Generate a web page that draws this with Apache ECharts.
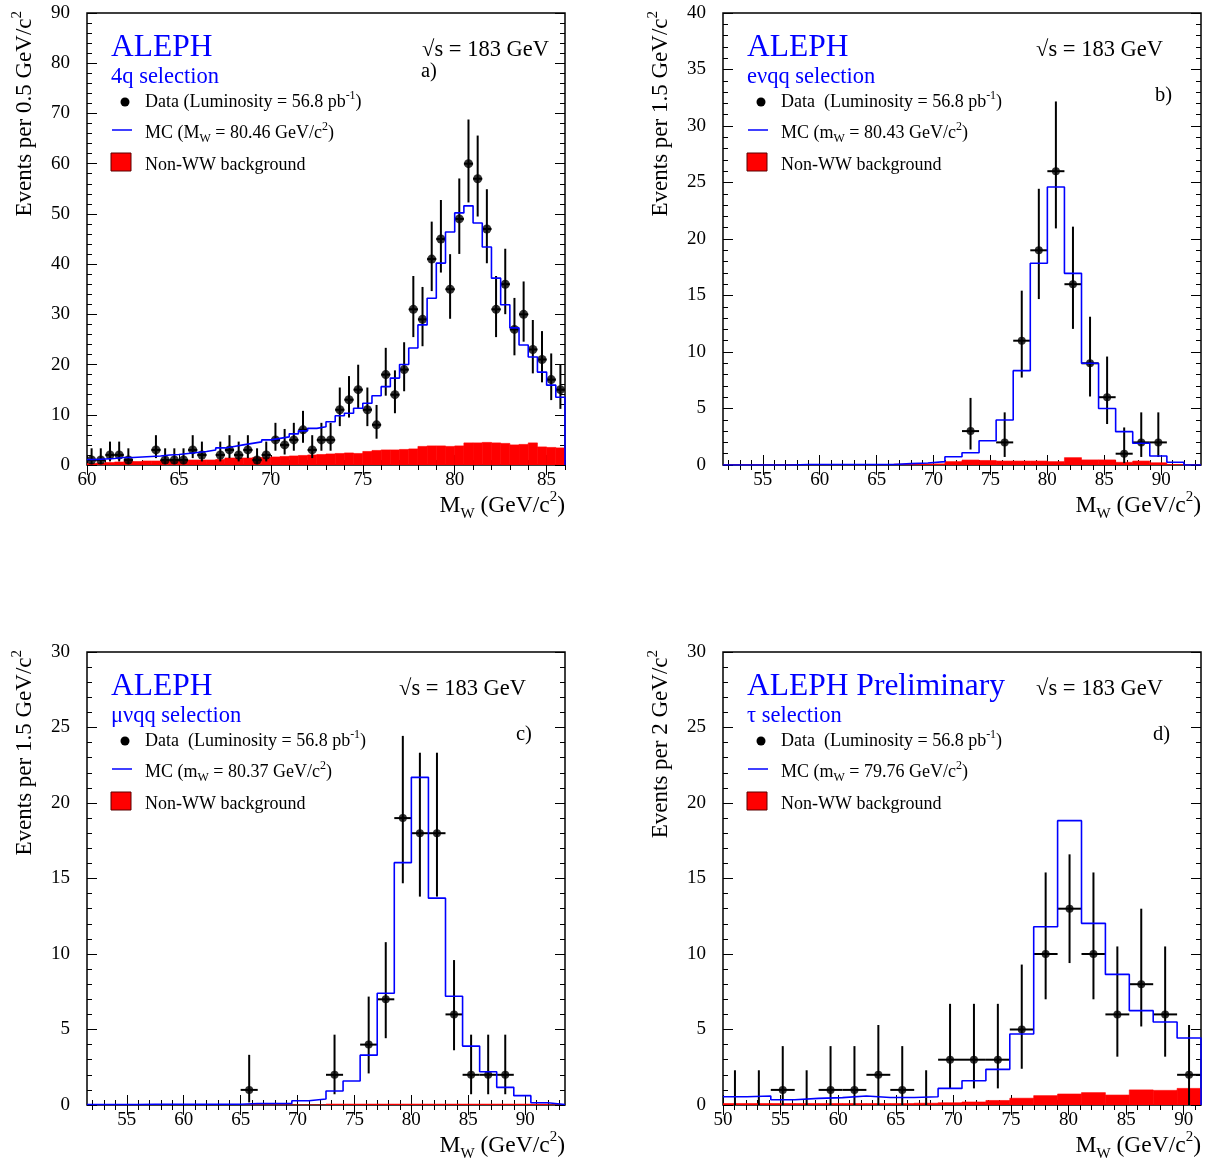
<!DOCTYPE html>
<html><head><meta charset="utf-8">
<script src="https://cdn.jsdelivr.net/npm/echarts@6/dist/echarts.min.js"></script>
<style>html,body{margin:0;padding:0;background:#fff}#c{width:1211px;height:1163px}</style>
</head><body><div id="c"></div>
<script>
// ================= DATA =================
// Panel a) 4q selection : 52 bins of 0.5 GeV starting at 60
const aBinLo = 60, aBinW = 0.5;
const aMC = [1.1,1.2,1.3,1.5,1.5,1.6,1.7,1.8,2.0,2.1, 2.3,2.5,2.7,3.0,3.4,3.7,4.0,4.3,4.6,5.0,
  5.3,5.6,6.2,6.8,7.3,7.6,8.6,9.8,10.3,11.3, 12.3,13.8,15.6,17.3,20.0,23.3,27.9,33.2,40.2,46.4,
  50.2,51.6,48.2,43.4,37.2,31.9,27.3,23.9,21.5,18.5, 15.9,13.5];
const aBkg = [0.3,0.4,0.5,0.6,0.7,0.7,0.8,0.8,0.9,0.9, 0.9,1.0,1.0,1.0,1.1,1.4,1.4,1.4,1.5,1.5,
  1.6,1.7,1.8,1.9,2.0,2.1,2.2,2.3,2.4,2.3, 2.7,2.9,3.0,3.0,3.1,3.2,3.7,3.8,3.8,3.7,
  3.8,4.4,4.4,4.5,4.4,4.3,4.0,4.1,4.4,3.6, 3.5,3.4];
const aCounts = [1,1,2,2,1,0,0,3,1,1, 1,3,2,0,2,3,2,3,1,2, 5,4,5,7,3,5,5,11,13,15,
  11,8,18,14,19,31,29,41,45,35, 49,60,57,47,31,36,27,30,23,21, 17,15];
const aXTicks = [60,65,70,75,80,85];
const aYTicks = [0,10,20,30,40,50,60,70,80,90];

// Panel b) e nu qq selection : 28 bins of 1.5 GeV starting at 51.5
const bBinLo = 51.5, bBinW = 1.5;
const bMC = [0,0,0,0,0.05,0.05,0.05,0.05,0.05,0.05, 0.12,0.18,0.3,0.73,1.09,2.15,3.98,8.35,17.85,24.6,
  16.96,9.0,5.0,2.95,1.92,0.8,0.24,0];
const bBkg = [0,0,0,0,0,0,0,0,0,0, 0.08,0.1,0.1,0.3,0.44,0.4,0.35,0.35,0.35,0.3,
  0.65,0.45,0.45,0.24,0.35,0.2,0.05,0];
const bCounts = [0,0,0,0,0,0,0,0,0,0, 0,0,0,0,3,0,2,11,19,26, 16,9,6,1,2,2,0,0];
const bXTicks = [55,60,65,70,75,80,85,90];
const bYTicks = [0,5,10,15,20,25,30,35,40];

// Panel c) mu nu qq selection : 28 bins of 1.5 GeV starting at 51.5
const cBinLo = 51.5, cBinW = 1.5;
const cMC = [0.03,0.03,0.03,0.05,0.05,0.05,0.05,0.05,0.05,0.1, 0.1,0.1,0.28,0.4,0.93,1.59,3.3,7.4,16.05,21.7,
  13.7,7.2,3.9,2.2,1.17,0.62,0.15,0.03];
const cBkg = [0,0,0,0,0,0,0,0,0,0, 0,0,0,0,0.06,0.06,0.06,0.06,0.06,0.06,
  0.06,0.06,0.06,0.06,0.06,0.06,0.06,0];
const cCounts = [0,0,0,0,0,0,0,0,0,1, 0,0,0,0,2,0,4,7,19,18, 18,6,2,2,2,0,0,0];
const cXTicks = [55,60,65,70,75,80,85,90];
const cYTicks = [0,5,10,15,20,25,30];

// Panel d) tau selection : 20 bins starting at 50 (width 2.075)
const dBinLo = 50, dBinW = 2.075;
const dMC = [0.55,0.6,0.35,0.44,0.49,0.6,0.5,0.5,0.55,1.1, 1.61,2.36,4.7,11.8,18.83,12.03,8.65,6.25,5.5,4.44];
const dBkg = [0.1,0.1,0.1,0.1,0.1,0.1,0.1,0.1,0.12,0.15, 0.2,0.3,0.45,0.62,0.73,0.82,0.66,1.0,0.97,1.1];
const dCounts = [0,0,1,0,1,1,2,1,0,3, 3,3,5,10,13,10,6,8,6,2];
const dErrLo = [0,0,0,0,0,0,0,0,0,1.1, 1.1,1.1,2.4,7.0,9.4,7.0,3.2,5.2,3.2,0];
const dErrHi = [2.3,2.3,3.9,2.3,3.9,3.9,5.3,3.9,2.3,6.7, 6.7,6.7,9.3,15.4,16.6,15.4,10.5,13.0,10.5,5.3];
const dXTicks = [50,55,60,65,70,75,80,85,90];
const dYTicks = [0,5,10,15,20,25,30];

// ================= RENDERING =================
const FONT = 'Liberation Serif';
const BLUE = '#0000ff';
const RED = '#ff0000';

// Gehrels approximation of the 68% Poisson interval of a count
function poissonInterval(n) {
  const lo = n * Math.pow(1 - 1 / (9 * n) - 1 / (3 * Math.sqrt(n)), 3);
  const hi = n + Math.sqrt(n + 0.75) + 1;
  return [lo, hi];
}

const panels = [
  {left:87, top:13, w:478, h:452, xmin:60, xmax:86, xMajor:aXTicks, yMajor:aYTicks, yMinorStep:2,
   lo:aBinLo, bw:aBinW, mc:aMC, bkg:aBkg, counts:aCounts, sym:9, dropEnd:true,
   title:'ALEPH', sel:'4q selection', sqrtX:462, tag:'a)', tagX:334, tagY:59,
   data:'Data (Luminosity = 56.8 pb{sup|-1})', mcTxt:'MC (M{sub|W} = 80.46 GeV/c{sup|2})',
   ytitle:'Events per 0.5 GeV/c{sup|2}'},
  {left:723, top:13, w:478, h:452, xmin:51.5, xmax:93.5, xMajor:bXTicks, yMajor:bYTicks, yMinorStep:1,
   lo:bBinLo, bw:bBinW, mc:bMC, bkg:bBkg, counts:bCounts, sym:8, dropEnd:false,
   title:'ALEPH', sel:'eνqq selection', sqrtX:440, tag:'b)', tagX:432, tagY:83,
   data:'Data  (Luminosity = 56.8 pb{sup|-1})', mcTxt:'MC (m{sub|W} = 80.43 GeV/c{sup|2})',
   ytitle:'Events per 1.5 GeV/c{sup|2}'},
  {left:87, top:652, w:478, h:453, xmin:51.5, xmax:93.5, xMajor:cXTicks, yMajor:cYTicks, yMinorStep:1,
   lo:cBinLo, bw:cBinW, mc:cMC, bkg:cBkg, counts:cCounts, sym:8, dropEnd:false,
   title:'ALEPH', sel:'μνqq selection', sqrtX:439, tag:'c)', tagX:429, tagY:83,
   data:'Data  (Luminosity = 56.8 pb{sup|-1})', mcTxt:'MC (m{sub|W} = 80.37 GeV/c{sup|2})',
   ytitle:'Events per 1.5 GeV/c{sup|2}'},
  {left:723, top:652, w:478, h:453, xmin:50, xmax:91.5, xMajor:dXTicks, yMajor:dYTicks, yMinorStep:1,
   lo:dBinLo, bw:dBinW, mc:dMC, bkg:dBkg, counts:dCounts, errLo:dErrLo, errHi:dErrHi, sym:8, dropEnd:true,
   title:'ALEPH Preliminary', sel:'τ selection', sqrtX:440, tag:'d)', tagX:430, tagY:83,
   data:'Data  (Luminosity = 56.8 pb{sup|-1})', mcTxt:'MC (m{sub|W} = 79.76 GeV/c{sup|2})',
   ytitle:'Events per 2 GeV/c{sup|2}'}
];

function T(x, y, text, o) {
  o = o || {};
  const size = o.size || 17, color = o.color || '#000';
  const sm = Math.round(size * 0.65);
  return {
    type: 'text', x: x, y: y, rotation: o.rot || 0, z: 100,
    style: {
      text: text, fontFamily: FONT, fontSize: size, fill: color,
      align: o.align || 'left', verticalAlign: 'middle', lineHeight: Math.round(size * 1.35),
      rich: {
        sup: {fontFamily: FONT, fontSize: sm, fill: color, verticalAlign: 'top', lineHeight: sm},
        sub: {fontFamily: FONT, fontSize: sm, fill: color, verticalAlign: 'bottom', lineHeight: sm}
      }
    }
  };
}

function range(a, b, step) {
  const out = [];
  for (let v = Math.ceil(a / step) * step; v <= b + 1e-9; v += step) out.push(+v.toFixed(4));
  return out;
}

function tickAxis(dim, g, pos, min, max, vals, len, withLabels) {
  return {
    type: 'value', gridIndex: g, position: pos, min: min, max: max, offset: 0,
    axisLine: {show: false}, splitLine: {show: false}, minorTick: {show: false},
    axisTick: {show: true, inside: true, length: len, customValues: vals,
      lineStyle: {color: '#000', width: 1}},
    axisLabel: withLabels ? {show: true, customValues: vals, fontFamily: FONT, fontSize: 19,
      color: '#000', margin: dim === 'x' ? 6 : 17} : {show: false}
  };
}

const grids = [], xAxes = [], yAxes = [], series = [], graphics = [];

panels.forEach(function (P, g) {
  const ymax = P.yMajor[P.yMajor.length - 1];
  grids.push({left: P.left, top: P.top, width: P.w, height: P.h, show: true,
    borderColor: '#000', borderWidth: 1.5, backgroundColor: 'transparent'});
  const xMinor = range(P.xmin, P.xmax, 1);
  const yMinor = range(0, ymax, P.yMinorStep);
  const xi = xAxes.length, yi = yAxes.length;
  xAxes.push(tickAxis('x', g, 'bottom', P.xmin, P.xmax, P.xMajor, 10, true));
  xAxes.push(tickAxis('x', g, 'bottom', P.xmin, P.xmax, xMinor, 5, false));
  xAxes.push(tickAxis('x', g, 'top', P.xmin, P.xmax, P.xMajor, 10, false));
  xAxes.push(tickAxis('x', g, 'top', P.xmin, P.xmax, xMinor, 5, false));
  yAxes.push(tickAxis('y', g, 'left', 0, ymax, P.yMajor, 10, true));
  yAxes.push(tickAxis('y', g, 'left', 0, ymax, yMinor, 5, false));
  yAxes.push(tickAxis('y', g, 'right', 0, ymax, P.yMajor, 10, false));
  yAxes.push(tickAxis('y', g, 'right', 0, ymax, yMinor, 5, false));

  // background histogram (filled)
  const bkgData = P.bkg.map(function (v, i) { return [P.lo + i * P.bw, P.lo + (i + 1) * P.bw, v]; });
  series.push({
    type: 'custom', xAxisIndex: xi, yAxisIndex: yi, data: bkgData, clip: true, silent: true,
    renderItem: function (params, api) {
      const p1 = api.coord([api.value(0), api.value(2)]);
      const p2 = api.coord([api.value(1), 0]);
      return {type: 'rect', shape: {x: p1[0], y: p1[1], width: p2[0] - p1[0], height: p2[1] - p1[1]},
        style: {fill: RED, stroke: RED, lineWidth: 0.6}};
    }
  });

  // MC step histogram
  const mcData = P.mc.map(function (v, i) { return [P.lo + i * P.bw, v]; });
  const end = P.lo + P.mc.length * P.bw;
  mcData.push([end, P.mc[P.mc.length - 1]]);
  if (P.dropEnd) mcData.push([end, 0]);
  series.push({type: 'line', xAxisIndex: xi, yAxisIndex: yi, data: mcData, step: 'end',
    symbol: 'none', silent: true, lineStyle: {color: BLUE, width: 1.6}, clip: true});

  // data points with error bars
  const errData = [], ptData = [];
  P.counts.forEach(function (n, i) {
    const xc = P.lo + (i + 0.5) * P.bw;
    let lo, hi;
    if (P.errLo) { lo = P.errLo[i]; hi = P.errHi[i]; }
    else { if (n <= 0) return; const iv = poissonInterval(n); lo = iv[0]; hi = iv[1]; }
    errData.push([xc, n, lo, hi, P.bw / 2]);
    if (n > 0) ptData.push([xc, n]);
  });
  series.push({
    type: 'custom', xAxisIndex: xi, yAxisIndex: yi, data: errData, silent: true,
    renderItem: function (params, api) {
      const x = api.value(0), y = api.value(1), hw = api.value(4);
      const top = api.coord([x, api.value(3)]), bot = api.coord([x, api.value(2)]);
      const l = api.coord([x - hw, y]), r = api.coord([x + hw, y]);
      const st = {stroke: '#000', lineWidth: 2};
      const ch = [{type: 'line', shape: {x1: top[0], y1: top[1], x2: bot[0], y2: bot[1]}, style: st}];
      if (y > 0) ch.push({type: 'line', shape: {x1: l[0], y1: l[1], x2: r[0], y2: r[1]}, style: st});
      return {type: 'group', children: ch};
    }
  });
  series.push({type: 'scatter', xAxisIndex: xi, yAxisIndex: yi, data: ptData, symbol: 'circle',
    symbolSize: P.sym, itemStyle: {color: '#000'}, silent: true});

  // texts & legend
  const L = P.left, Tp = P.top;
  graphics.push(T(L + 24, Tp + 35, P.title, {size: 31.5, color: BLUE}));
  graphics.push(T(L + 24, Tp + 64, P.sel, {size: 22.5, color: BLUE}));
  graphics.push(T(L + P.sqrtX, Tp + 37, '√s = 183 GeV', {size: 22.5, align: 'right'}));
  graphics.push(T(L + P.tagX, Tp + P.tagY, P.tag, {size: 20.5}));
  graphics.push({type: 'circle', z: 100, shape: {cx: L + 38, cy: Tp + 89, r: 4.5}, style: {fill: '#000'}});
  graphics.push(T(L + 58, Tp + 89, P.data, {size: 18}));
  graphics.push({type: 'line', z: 100, shape: {x1: L + 25, y1: Tp + 117, x2: L + 45, y2: Tp + 117},
    style: {stroke: BLUE, lineWidth: 1.5}});
  graphics.push(T(L + 58, Tp + 120, P.mcTxt, {size: 18}));
  graphics.push({type: 'rect', z: 100, shape: {x: L + 24, y: Tp + 140, width: 20, height: 18},
    style: {fill: RED, stroke: '#5a0000', lineWidth: 1}});
  graphics.push(T(L + 58, Tp + 152, 'Non-WW background', {size: 18}));
  // axis titles
  graphics.push(T(L + P.w, Tp + P.h + 41, 'M{sub|W} (GeV/c{sup|2})', {size: 23.5, align: 'right'}));
  graphics.push(T(L - 62, Tp - 2, P.ytitle, {size: 23, align: 'right', rot: Math.PI / 2}));
});

const chart = echarts.init(document.getElementById('c'), null, {renderer: 'canvas'});
chart.setOption({
  animation: false,
  backgroundColor: '#fff',
  grid: grids,
  xAxis: xAxes,
  yAxis: yAxes,
  series: series,
  graphic: graphics
});
</script>
</body></html>
